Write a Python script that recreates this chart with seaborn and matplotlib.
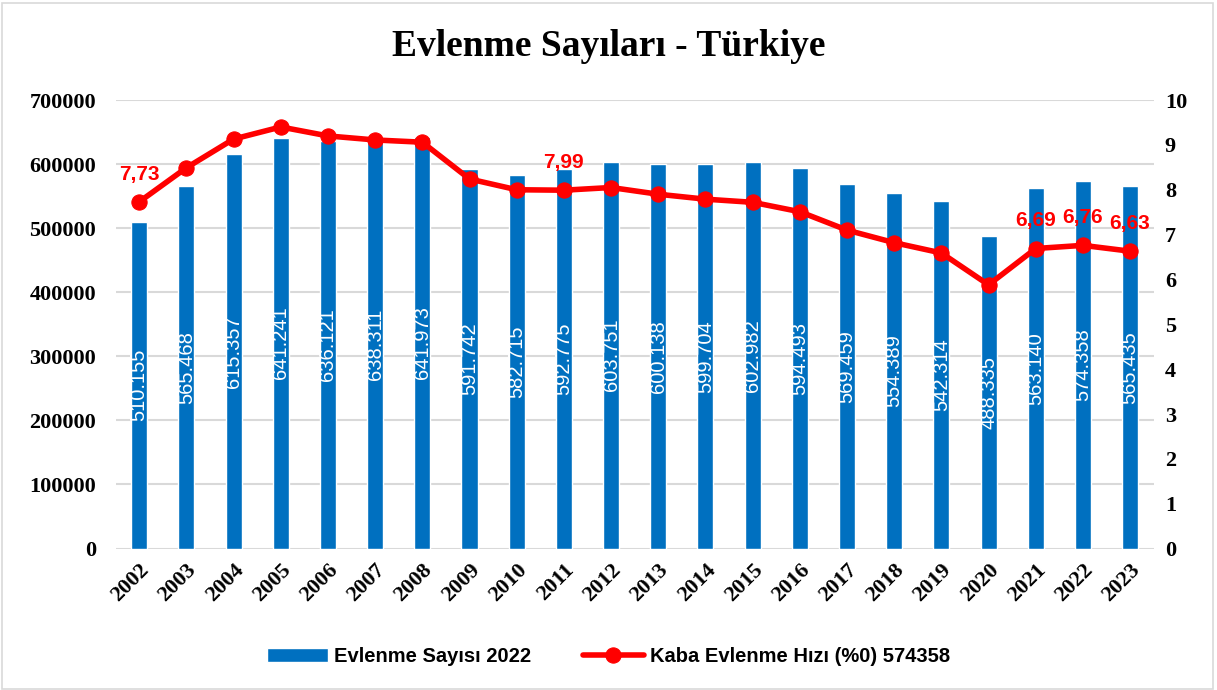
import matplotlib
matplotlib.use("Agg")
import matplotlib.pyplot as plt
import seaborn as sns
import pandas as pd
from matplotlib.patches import Rectangle
from matplotlib.font_manager import FontProperties

sns.set_theme(style="white")

# ============================================================
# DATA
# ============================================================
years = [str(y) for y in range(2002, 2024)]
marriages = [510155, 565468, 615357, 641241, 636121, 638311, 641973, 591742,
             582715, 592775, 603751, 600138, 599704, 602982, 594493, 569459,
             554389, 542314, 488335, 563140, 574358, 565435]
rate = [7.73, 8.49, 9.13, 9.40, 9.20, 9.11, 9.06, 8.24, 8.00, 7.99, 8.05,
        7.90, 7.79, 7.72, 7.51, 7.10, 6.82, 6.59, 5.88, 6.69, 6.76, 6.63]
rate_labelled = ["2002", "2011", "2021", "2022", "2023"]

bar_name = "Evlenme Sayısı 2022"
line_name = "Kaba Evlenme Hızı (%0) 574358"

df = pd.DataFrame({"year": years, "count": marriages, "rate": rate})

BLUE = "#0070c0"
RED = "#ff0000"
SERIF = ["Liberation Serif", "DejaVu Serif"]
SANS = ["Liberation Sans", "DejaVu Sans"]

# ============================================================
# FIGURE
# ============================================================
fig = plt.figure(figsize=(12.17, 6.90), dpi=100)
ax = fig.add_axes([0.095, 0.205, 0.853, 0.65])
fig.patches.append(Rectangle((0.002, 0.002), 0.995, 0.994, transform=fig.transFigure,
                             fill=False, edgecolor="#d9d9d9", linewidth=1.2))

sns.barplot(data=df, x="year", y="count", ax=ax, color=BLUE, width=0.34,
            saturation=1, label=bar_name)
ax.set_ylim(0, 700000)
ax.set_yticks(range(0, 700001, 100000))
ax.yaxis.grid(True, color="#d9d9d9", linewidth=1.5)
ax.set_axisbelow(True)
for s in ax.spines.values():
    s.set_visible(False)
ax.set_xlabel("")
ax.set_ylabel("")
ax.tick_params(axis="both", length=0, labelcolor="black")
ax.tick_params(axis="y", pad=14)

# bar value labels (white, rotated, centred)
for i, v in enumerate(marriages):
    ax.text(i, v / 2, f"{v:,}".replace(",", "."), rotation=90, color="white",
            ha="center", va="center", fontsize=14.5, family=SANS)

# secondary axis: rate
ax2 = ax.twinx()
sns.lineplot(data=df, x="year", y="rate", ax=ax2, color=RED, linewidth=4,
             marker="o", markersize=11, markeredgecolor=RED, label=line_name,
             legend=False)
ax2.set_ylim(0, 10)
ax2.set_yticks(range(0, 11))
for s in ax2.spines.values():
    s.set_visible(False)
ax2.set_ylabel("")
ax2.tick_params(axis="y", length=0, pad=8, labelcolor="black")
ax2.grid(False)

for i, (y, r) in enumerate(zip(years, rate)):
    if y in rate_labelled:
        ax2.annotate(f"{r:.2f}".replace(".", ","), (i, r), xytext=(0, 13),
                     textcoords="offset points", ha="center", va="bottom",
                     color=RED, fontsize=15, fontweight="bold", family=SANS)

# tick label styling
for lab in ax.get_yticklabels() + ax2.get_yticklabels():
    lab.set_family(SERIF)
    lab.set_fontweight("bold")
    lab.set_fontsize(16)
ax.set_xticks(range(len(years)))
ax.set_xticklabels(years, rotation=45, ha="right", rotation_mode="anchor",
                   family=SERIF, fontweight="bold", fontsize=16, color="black")
ax.tick_params(axis="x", pad=8)
ax.set_xlim(-0.5, len(years) - 0.5)

# legend
h1, l1 = ax.get_legend_handles_labels()
h2, l2 = ax2.get_legend_handles_labels()
if ax.get_legend():
    ax.get_legend().remove()
legend_font = FontProperties(family=SANS, weight="bold", size=14.5)
fig.legend(h1 + h2, l1 + l2, loc="center", bbox_to_anchor=(0.5, 0.048), ncol=2,
           frameon=False, prop=legend_font, handlelength=3.0, handletextpad=0.3,
           columnspacing=2.6, labelcolor="black")

fig.suptitle("Evlenme Sayıları - Türkiye", x=0.5, y=0.958, family=SERIF,
             fontweight="bold", fontsize=27, color="black")

fig.savefig("out.png", dpi=100)
plt.close(fig)
